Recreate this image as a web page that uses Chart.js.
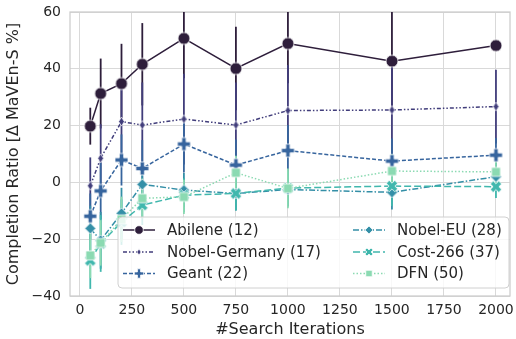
<!DOCTYPE html>
<html><head><meta charset="utf-8">
<script src="https://cdn.jsdelivr.net/npm/chart.js@4"></script>
<style>
html,body{margin:0;padding:0;background:#fff;overflow:hidden;}
#wrap{width:516px;height:339px;overflow:hidden;position:relative;}
#wrap canvas{position:absolute;left:0;top:0;}
</style></head><body>
<div id="wrap"><canvas id="c" width="518" height="339" style="width:518px;height:339px"></canvas></div>
<script>
// ---- data ----
const iterations = [50, 100, 200, 300, 500, 750, 1000, 1500, 2000];
const seriesNames = ['Abilene (12)', 'Nobel-Germany (17)', 'Geant (22)', 'Nobel-EU (28)', 'Cost-266 (37)', 'DFN (50)'];
const abilene      = [19.8, 31.3, 34.8, 41.6, 50.7, 40.1, 48.9, 42.7, 48.2];
const nobelGermany = [-1.2, 8.5, 21.4, 20.2, 22.3, 20.2, 25.3, 25.5, 26.7];
const geant        = [-11.9, -3.0, 7.9, 4.9, 13.5, 6.1, 11.2, 7.5, 9.6];
const nobelEU      = [-16.2, -20.4, -10.9, -0.7, -2.7, -3.9, -2.5, -3.5, 2.0];
const cost266      = [-27.5, -21.5, -14.0, -8.0, -4.5, -3.9, -2.0, -1.3, -1.5];
const dfn          = [-25.7, -21.3, -13.0, -5.6, -5.1, 3.4, -2.1, 4.0, 3.7];
// half-widths of the error bars
const abileneErr      = [6.5, 12.3, 14, 14.5, 14, 14.7, 14, 18, 0];
const nobelGermanyErr = [10, 12, 14, 15, 16, 15, 16, 16, 13];
const geantErr        = [8, 10, 9, 10, 10, 9, 9, 8, 6];
const nobelEUErr      = [8, 10, 9, 7, 6, 6, 6, 6, 5];
const cost266Err      = [10, 10, 8, 7, 6, 6, 6, 7, 4];
const dfnErr          = [8, 8, 8, 7, 6, 6, 7, 6, 5];
const xTickValues = [0, 250, 500, 750, 1000, 1250, 1500, 1750, 2000];
const yTickValues = [-40, -20, 0, 20, 40, 60];

// ---- styles ----
const styles = [
  {color:'#2E1E3B', dash:[], marker:'circle', size:12},
  {color:'#413D7B', dash:[4,2,1.5,2,1.5,2], marker:'thinDiamond', size:9},
  {color:'#37659E', dash:[4,2], marker:'plus', size:13},
  {color:'#348FA7', dash:[6,2,1.5,2], marker:'diamond', size:11},
  {color:'#40B7AD', dash:[7,3], marker:'x', size:12},
  {color:'#8BDAB2', dash:[1.5,2], marker:'square', size:9}
];
const values = [abilene, nobelGermany, geant, nobelEU, cost266, dfn];
const errs = [abileneErr, nobelGermanyErr, geantErr, nobelEUErr, cost266Err, dfnErr];
const FONT = "'DejaVu Sans', 'Liberation Sans', sans-serif";
const TXT = '#262626';

function markerPath(ctx, type, x, y, s) {
  const r = s / 2;
  ctx.beginPath();
  if (type === 'circle') { ctx.arc(x, y, r, 0, Math.PI * 2); }
  else if (type === 'thinDiamond') { ctx.moveTo(x, y - r); ctx.lineTo(x + r * 0.65, y); ctx.lineTo(x, y + r); ctx.lineTo(x - r * 0.65, y); ctx.closePath(); }
  else if (type === 'diamond') { ctx.moveTo(x, y - r); ctx.lineTo(x + r, y); ctx.lineTo(x, y + r); ctx.lineTo(x - r, y); ctx.closePath(); }
  else if (type === 'square') { ctx.rect(x - r, y - r, s, s); }
  else if (type === 'plus' || type === 'x') {
    const t = s * 0.17;
    const pts = [[-t,-r],[t,-r],[t,-t],[r,-t],[r,t],[t,t],[t,r],[-t,r],[-t,t],[-r,t],[-r,-t],[-t,-t]];
    const a = type === 'x' ? Math.PI / 4 : 0;
    pts.forEach((p, i) => {
      const px = p[0] * Math.cos(a) - p[1] * Math.sin(a) + x;
      const py = p[0] * Math.sin(a) + p[1] * Math.cos(a) + y;
      if (i === 0) ctx.moveTo(px, py); else ctx.lineTo(px, py);
    });
    ctx.closePath();
  }
}
function drawMarker(ctx, type, x, y, s, color) {
  markerPath(ctx, type, x, y, s);
  ctx.fillStyle = color; ctx.fill();
  ctx.lineWidth = 0.8; ctx.strokeStyle = '#ffffff'; ctx.setLineDash([]); ctx.stroke();
}
function makeMarker(type, s, color) {
  const c = document.createElement('canvas');
  const d = Math.ceil(s + 4);
  c.width = d; c.height = d;
  drawMarker(c.getContext('2d'), type, d / 2, d / 2, s, color);
  return c;
}

const datasets = seriesNames.map((name, i) => ({
  label: name,
  data: iterations.map((it, j) => ({x: it, y: values[i][j]})),
  borderColor: styles[i].color,
  backgroundColor: styles[i].color,
  borderWidth: 1.5,
  borderDash: styles[i].dash,
  pointStyle: makeMarker(styles[i].marker, styles[i].size, styles[i].color),
  pointRadius: styles[i].size / 2,
  tension: 0,
  order: -i
}));

const framePlugin = {
  id: 'frameAndErr',
  beforeDatasetsDraw(chart) {
    const {ctx, chartArea: a, scales: {x, y}} = chart;
    ctx.save();
    ctx.strokeStyle = '#cccccc'; ctx.lineWidth = 1.25; ctx.setLineDash([]);
    ctx.strokeRect(a.left, a.top, a.right - a.left, a.bottom - a.top);
    ctx.beginPath(); ctx.rect(a.left, a.top, a.right - a.left, a.bottom - a.top); ctx.clip();
    values.forEach((vals, i) => {
      ctx.strokeStyle = styles[i].color; ctx.lineWidth = 1.8; ctx.setLineDash([]);
      vals.forEach((v, j) => {
        const e = errs[i][j]; if (!e) return;
        const px = x.getPixelForValue(iterations[j]);
        ctx.beginPath(); ctx.moveTo(px, y.getPixelForValue(v - e)); ctx.lineTo(px, y.getPixelForValue(v + e)); ctx.stroke();
      });
    });
    ctx.restore();
  }
};

const legendPlugin = {
  id: 'innerLegend',
  afterDraw(chart) {
    const ctx = chart.ctx;
    ctx.save();
    const bx = 118, by = 217, bw = 391, bh = 71, rr = 4;
    ctx.beginPath();
    ctx.moveTo(bx + rr, by); ctx.lineTo(bx + bw - rr, by); ctx.quadraticCurveTo(bx + bw, by, bx + bw, by + rr);
    ctx.lineTo(bx + bw, by + bh - rr); ctx.quadraticCurveTo(bx + bw, by + bh, bx + bw - rr, by + bh);
    ctx.lineTo(bx + rr, by + bh); ctx.quadraticCurveTo(bx, by + bh, bx, by + bh - rr);
    ctx.lineTo(bx, by + rr); ctx.quadraticCurveTo(bx, by, bx + rr, by);
    ctx.closePath();
    ctx.fillStyle = 'rgba(255,255,255,0.8)'; ctx.fill();
    ctx.strokeStyle = '#d0d0d0'; ctx.lineWidth = 1; ctx.stroke();
    const rows = [230, 252, 273.5];
    const cols = [{l: 123, r: 155, t: 167}, {l: 353, r: 385, t: 397}];
    ctx.font = '15px ' + FONT;
    ctx.textBaseline = 'middle';
    seriesNames.forEach((name, i) => {
      const c = cols[Math.floor(i / 3)], yy = rows[i % 3];
      ctx.strokeStyle = styles[i].color; ctx.lineWidth = 1.5; ctx.setLineDash(styles[i].dash);
      ctx.beginPath(); ctx.moveTo(c.l, yy); ctx.lineTo(c.r, yy); ctx.stroke();
      drawMarker(ctx, styles[i].marker, (c.l + c.r) / 2, yy, styles[i].size * 0.72, styles[i].color);
      ctx.fillStyle = TXT; ctx.fillText(name, c.t, yy + 1);
    });
    ctx.restore();
  }
};

new Chart(document.getElementById('c'), {
  type: 'line',
  data: {datasets},
  plugins: [framePlugin, legendPlugin],
  options: {
    responsive: false, animation: false, devicePixelRatio: 1,
    layout: {padding: {top: 12, left: 0, right: 0, bottom: 0}},
    plugins: {legend: {display: false}, tooltip: {enabled: false}},
    scales: {
      x: {
        type: 'linear', min: -47.5, max: 2067.5,
        afterBuildTicks(s) { s.ticks = xTickValues.map(v => ({value: v})); },
        afterFit(s) { s.height = 43; s.paddingLeft = 0; s.paddingRight = 0; },
        grid: {color: '#d9d9d9', lineWidth: 1, drawTicks: false},
        border: {display: false},
        ticks: {padding: 6, color: TXT, font: {family: FONT, size: 14}, maxRotation: 0, autoSkip: false, callback: v => String(v)},
        title: {display: true, text: '#Search Iterations', color: TXT, font: {family: FONT, size: 16}, padding: {top: 0, bottom: 0}}
      },
      y: {
        min: -40, max: 60,
        afterBuildTicks(s) { s.ticks = yTickValues.map(v => ({value: v})); },
        afterFit(s) { s.width = 70; s.paddingTop = 0; s.paddingBottom = 0; },
        grid: {color: '#d9d9d9', lineWidth: 1, drawTicks: false},
        border: {display: false},
        ticks: {padding: 9, color: TXT, font: {family: FONT, size: 14}, callback: v => v < 0 ? '\u2212' + Math.abs(v) : String(v)},
        title: {display: true, text: 'Completion Ratio [\u0394 MaVEn-S %]', color: TXT, font: {family: FONT, size: 16}, padding: {top: 4, bottom: 0}}
      }
    }
  }
});
</script>
</body></html>
